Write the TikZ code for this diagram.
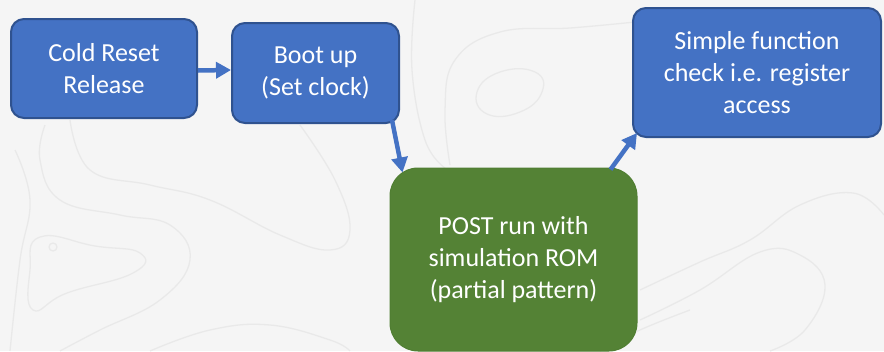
\documentclass[tikz,border=0pt]{standalone}
\usepackage{fontspec}
\setmainfont{Carlito}
\usetikzlibrary{arrows.meta,calc}
\definecolor{bgfill}{HTML}{F5F5F5}
\definecolor{contour}{HTML}{E9E9E9}
\definecolor{stepblue}{HTML}{4472C4}
\definecolor{stepedge}{HTML}{2F528F}
\definecolor{stepgreen}{HTML}{548235}
\definecolor{greenedge}{HTML}{507E32}

\begin{document}
\begin{tikzpicture}[x=1pt,y=-1pt,
  boxtext/.style={text=white, align=center, inner sep=0pt,
    font=\fontsize{26}{32}\selectfont},
  bluebox/.style={boxtext, draw=stepedge, line width=2pt, fill=stepblue,
    rounded corners=13pt},
  greenbox/.style={boxtext, draw=greenedge, line width=1pt, fill=stepgreen,
    rounded corners=28pt},
  flow/.style={draw=stepblue, line width=4.5pt,
    -{Triangle[length=15pt,width=16pt]}},
  topo/.style={draw=contour, line width=1.3pt}
]
% page background
\fill[bgfill] (0,0) rectangle (884,351);
\useasboundingbox (0,0) rectangle (884,351);

% faint contour lines in the background
\draw[topo] plot[smooth cycle, tension=0.8] coordinates
  {(40,237) (95,246) (140,253) (133,273) (67,293) (33,310) (30,270)};
\draw[topo] (53,247) circle (4);
\draw[topo] plot[smooth, tension=0.7] coordinates
  {(70,120) (90,170) (150,185) (210,200) (280,235) (330,250) (350,230) (335,180) (300,125)};
\draw[topo] plot[smooth, tension=0.7] coordinates
  {(15,150) (30,200) (20,260) (10,351)};
\draw[topo] plot[smooth, tension=0.7] coordinates
  {(60,351) (100,330) (160,300) (190,260) (170,225) (120,215) (60,200) (40,160) (45,125)};
\draw[topo] plot[smooth, tension=0.7] coordinates
  {(150,351) (210,330) (270,325) (330,340) (350,351)};
\draw[topo] plot[smooth cycle, tension=0.8] coordinates
  {(477,92) (500,72) (535,72) (542,92) (520,112) (487,114)};
\draw[topo] plot[smooth, tension=0.7] coordinates
  {(450,165) (445,110) (455,60) (500,32) (570,28) (635,22)};
\draw[topo] plot[smooth, tension=0.7] coordinates
  {(415,0) (412,70) (425,140) (445,168)};
\draw[topo] plot[smooth, tension=0.7] coordinates
  {(640,290) (700,262) (750,240) (800,205) (853,193) (884,215)};
\draw[topo] plot[smooth, tension=0.7] coordinates
  {(640,320) (700,290) (760,252) (800,255) (825,285) (805,330) (770,351)};
\draw[topo] plot[smooth, tension=0.7] coordinates
  {(600,351) (640,330) (690,310)};

% process steps
\node[bluebox, minimum width=186pt, minimum height=99pt]
  (reset) at (104,68.5) {Cold Reset\\Release};
\node[bluebox, minimum width=167pt, minimum height=100pt]
  (boot) at (315.5,73) {Boot up\\(Set clock)};
\node[greenbox, minimum width=247pt, minimum height=183pt]
  (post) at (513.5,259.5) {POST run with\\simulation ROM\\(partial pattern)};
\node[bluebox, minimum width=248pt, minimum height=129pt]
  (check) at (757,72.5) {Simple function\\check i.e. register\\access};

% connectors
\draw[flow] ($(reset.east)+(0,2)$) -- ($(boot.west)+(0,-3)$);
\draw[flow] ($(boot.south east)+(-8,-4)$) -- ($(post.north west)+(13,5)$);
\draw[flow] ($(post.north east)+(-27,2)$) -- ($(check.south west)+(5,-5)$);
\end{tikzpicture}
\end{document}
